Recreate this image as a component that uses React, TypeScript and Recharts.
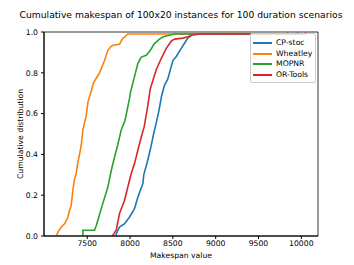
import React from 'react';
import { LineChart, Line, XAxis, YAxis, ReferenceArea } from 'recharts';

// CDF points: [makespan, cumulative share]
const cpStoc: [number, number][] = [
  [7835, 0], [7839, 0.01], [7877, 0.044], [7936, 0.06], [7994, 0.093], [8052, 0.134],
  [8091, 0.19], [8150, 0.257], [8160, 0.3], [8200, 0.36], [8240, 0.43], [8275, 0.5],
  [8300, 0.545], [8335, 0.61], [8370, 0.69], [8403, 0.74], [8441, 0.77], [8500, 0.86],
  [8540, 0.88], [8598, 0.92], [8636, 0.945], [8675, 0.97], [8715, 0.985], [8740, 0.99],
  [9958, 0.99], [9958, 1],
];
const wheatley: [number, number][] = [
  [7138, 0], [7160, 0.02], [7196, 0.044], [7235, 0.06], [7255, 0.077], [7273, 0.09],
  [7293, 0.126], [7313, 0.15], [7332, 0.224], [7352, 0.28], [7371, 0.306], [7390, 0.36],
  [7410, 0.4], [7430, 0.445], [7449, 0.52], [7488, 0.59], [7510, 0.66], [7547, 0.71],
  [7565, 0.74], [7585, 0.76], [7644, 0.8], [7702, 0.86], [7741, 0.91], [7780, 0.93],
  [7799, 0.935], [7877, 0.94], [7916, 0.97], [7936, 0.975], [7974, 0.99], [9186, 0.99],
  [9186, 1],
];
const mopnr: [number, number][] = [
  [7450, 0], [7450, 0.028], [7585, 0.028], [7605, 0.05], [7624, 0.077], [7682, 0.16],
  [7741, 0.24], [7780, 0.32], [7819, 0.387], [7858, 0.45], [7897, 0.52], [7940, 0.565],
  [7994, 0.675], [8006, 0.706], [8045, 0.77], [8091, 0.845], [8131, 0.877], [8189, 0.886],
  [8228, 0.905], [8248, 0.918], [8286, 0.945], [8306, 0.95], [8344, 0.965], [8383, 0.975],
  [8420, 0.98], [8520, 0.99], [9840, 0.99], [9840, 1],
];
const orTools: [number, number][] = [
  [7790, 0], [7810, 0.01], [7839, 0.03], [7877, 0.11], [7936, 0.175], [7974, 0.24],
  [8014, 0.306], [8052, 0.355], [8091, 0.42], [8131, 0.485], [8165, 0.535], [8208, 0.64],
  [8235, 0.72], [8306, 0.815], [8364, 0.87], [8423, 0.92], [8481, 0.955], [8520, 0.965],
  [8617, 0.97], [8675, 0.977], [8733, 0.985], [8831, 0.99], [10050, 0.99], [10050, 1],
];

const seriesNames = ['CP-stoc', 'Wheatley', 'MOPNR', 'OR-Tools'];
const seriesColors = ['#1f77b4', '#ff7f0e', '#2ca02c', '#d62728'];
const seriesData = [cpStoc, wheatley, mopnr, orTools];

const xTicks = [7500, 8000, 8500, 9000, 9500, 10000];
const yTicks = [0, 0.2, 0.4, 0.6, 0.8, 1.0];
const xDomain: [number, number] = [6995, 10195];

const FONT = 'DejaVu Sans';

const toPoints = (pts: [number, number][]) => pts.map(([x, y]) => ({ x, y }));

const LegendBox = () => (
  <div
    style={{
      position: 'absolute',
      left: 250,
      top: 33,
      width: 66,
      height: 50,
      border: '1px solid #cccccc',
      borderRadius: 2,
      background: 'rgba(255,255,255,0.8)',
      fontFamily: FONT,
      fontSize: 7.7,
      paddingTop: 4,
      boxSizing: 'border-box',
    }}
  >
    {seriesNames.map((name, i) => (
      <div key={name} style={{ display: 'flex', alignItems: 'center', height: 10.6 }}>
        <div style={{ width: 19, height: 2, background: seriesColors[i], marginLeft: 2, marginRight: 4 }} />
        <span style={{ color: '#000', lineHeight: '10px' }}>{name}</span>
      </div>
    ))}
  </div>
);

const App = () => {
  return (
    <div style={{ position: 'absolute', left: 0, top: 0, width: 354, height: 265, background: '#fff' }}>
      <LineChart width={354} height={265} margin={{ top: 32, right: 36, bottom: 0, left: 0 }}>
        <XAxis
          dataKey="x"
          type="number"
          domain={xDomain}
          ticks={xTicks}
          allowDataOverflow
          height={29}
          tickSize={3}
          tickMargin={2}
          stroke="#000"
          tick={{ fill: '#000', fontSize: 7.7, fontFamily: FONT }}
        />
        <YAxis
          type="number"
          domain={[0, 1]}
          ticks={yTicks}
          width={44}
          tickSize={3}
          tickMargin={3}
          stroke="#000"
          tickFormatter={(v: number) => v.toFixed(1)}
          tick={{ fill: '#000', fontSize: 7.7, fontFamily: FONT }}
        />
        {seriesData.map((pts, i) => (
          <Line
            key={seriesNames[i]}
            data={toPoints(pts)}
            dataKey="y"
            name={seriesNames[i]}
            type="linear"
            stroke={seriesColors[i]}
            strokeWidth={1.6}
            dot={false}
            isAnimationActive={false}
          />
        ))}
        <ReferenceArea
          x1={xDomain[0]}
          x2={xDomain[1]}
          y1={0}
          y2={1}
          fill="none"
          fillOpacity={0}
          stroke="#000"
          strokeWidth={0.8}
          ifOverflow="visible"
        />
      </LineChart>
      <LegendBox />
      <svg
        width={354}
        height={265}
        style={{ position: 'absolute', left: 0, top: 0, pointerEvents: 'none' }}
        fontFamily={FONT}
      >
        <text x={181} y={14} textAnchor="middle" dominantBaseline="central" fontSize={9.2}>
          Cumulative makespan of 100x20 instances for 100 duration scenarios
        </text>
        <text x={181} y={255} textAnchor="middle" dominantBaseline="central" fontSize={7.7}>
          Makespan value
        </text>
        <text
          x={20}
          y={134}
          textAnchor="middle"
          dominantBaseline="central"
          fontSize={7.7}
          transform="rotate(-90 20 134)"
        >
          Cumulative distribution
        </text>
      </svg>
    </div>
  );
};

export default App;
